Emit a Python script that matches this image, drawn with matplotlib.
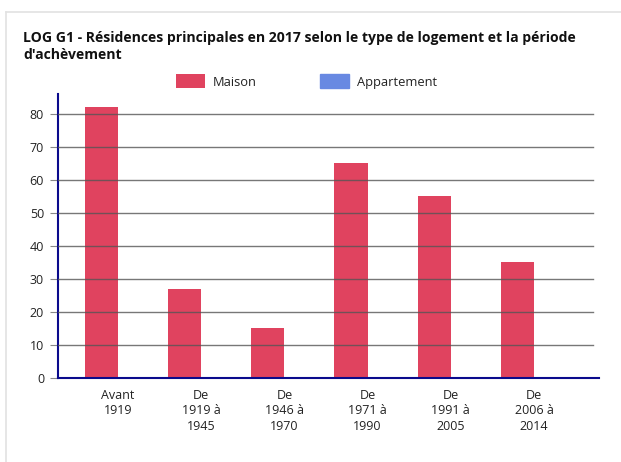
import numpy as np
import matplotlib.pyplot as plt
from matplotlib.lines import Line2D

plt.rcParams['font.family'] = ['Open Sans', 'DejaVu Sans']

# Données
periodes = ["Avant\n1919", "De\n1919 à\n1945", "De\n1946 à\n1970",
            "De\n1971 à\n1990", "De\n1991 à\n2005", "De\n2006 à\n2014"]
maison = [82, 27, 15, 65, 55, 35]
appartement = [0, 0, 0, 0, 0, 0]
y_ticks = [0, 10, 20, 30, 40, 50, 60, 70, 80]

col_maison = '#E0435F'
col_appart = '#6889E2'
col_axe = '#0A0A8C'

H = 462
fig = plt.figure(figsize=(6.21, 4.62), dpi=100)
ax = fig.add_axes([0.0934, 0.1825, 0.8712, 0.6135])

x = np.arange(len(periodes))
w = 0.4
ax.bar(x - w / 2, maison, w, color=col_maison, label='Maison', zorder=2)
ax.bar(x + w / 2, appartement, w, color=col_appart, edgecolor=col_appart,
       linewidth=1, label='Appartement', zorder=2)

ax.set_xlim(-0.72, 5.78)
ax.set_ylim(0, 86)
ax.set_yticks(y_ticks)
ax.set_xticks(x)
ax.set_xticklabels(periodes, fontsize=9, color='#222222', linespacing=1.25)
ax.tick_params(axis='x', length=0, pad=8)
ax.tick_params(axis='y', length=6, color='#888888', labelsize=9,
               labelcolor='#222222', pad=4)

# grille par-dessus les barres
for v in y_ticks[1:]:
    ax.axhline(v, xmin=0, xmax=0.989, color='#555555', lw=1, alpha=0.8, zorder=3)

for s in ['top', 'right']:
    ax.spines[s].set_visible(False)
ax.spines['left'].set_color(col_axe)
ax.spines['left'].set_linewidth(1.5)
ax.spines['bottom'].set_color(col_axe)
ax.spines['bottom'].set_linewidth(1.5)
ax.spines['bottom'].set_zorder(4)

leg = fig.legend(*ax.get_legend_handles_labels(), loc='center left',
                 bbox_to_anchor=(176 / 621, 1 - 81.4 / H), ncol=2,
                 frameon=False, fontsize=9.3, handlelength=2.25, handleheight=1.32,
                 columnspacing=4.88, handletextpad=0.62, borderaxespad=0,
                 borderpad=0)
for t in leg.get_texts():
    t.set_color('#222222')

# titre sur deux lignes
fig.text(23 / 621, 1 - 41.7 / H,
         "LOG G1 - Résidences principales en 2017 selon le type de logement et la période",
         fontsize=10.1, fontweight='bold', ha='left', va='baseline', color='#111111')
fig.text(23 / 621, 1 - 59 / H, "d'achèvement",
         fontsize=10.1, fontweight='bold', ha='left', va='baseline', color='#111111')

# cadre de la carte
fig.add_artist(Line2D([0.010, 1.0], [1 - 12 / H, 1 - 12 / H], color='#E2E2E2', lw=1.2))
fig.add_artist(Line2D([0.010, 0.010], [0.0, 1 - 12 / H], color='#E2E2E2', lw=1.2))

fig.savefig('out.png', dpi=100)
